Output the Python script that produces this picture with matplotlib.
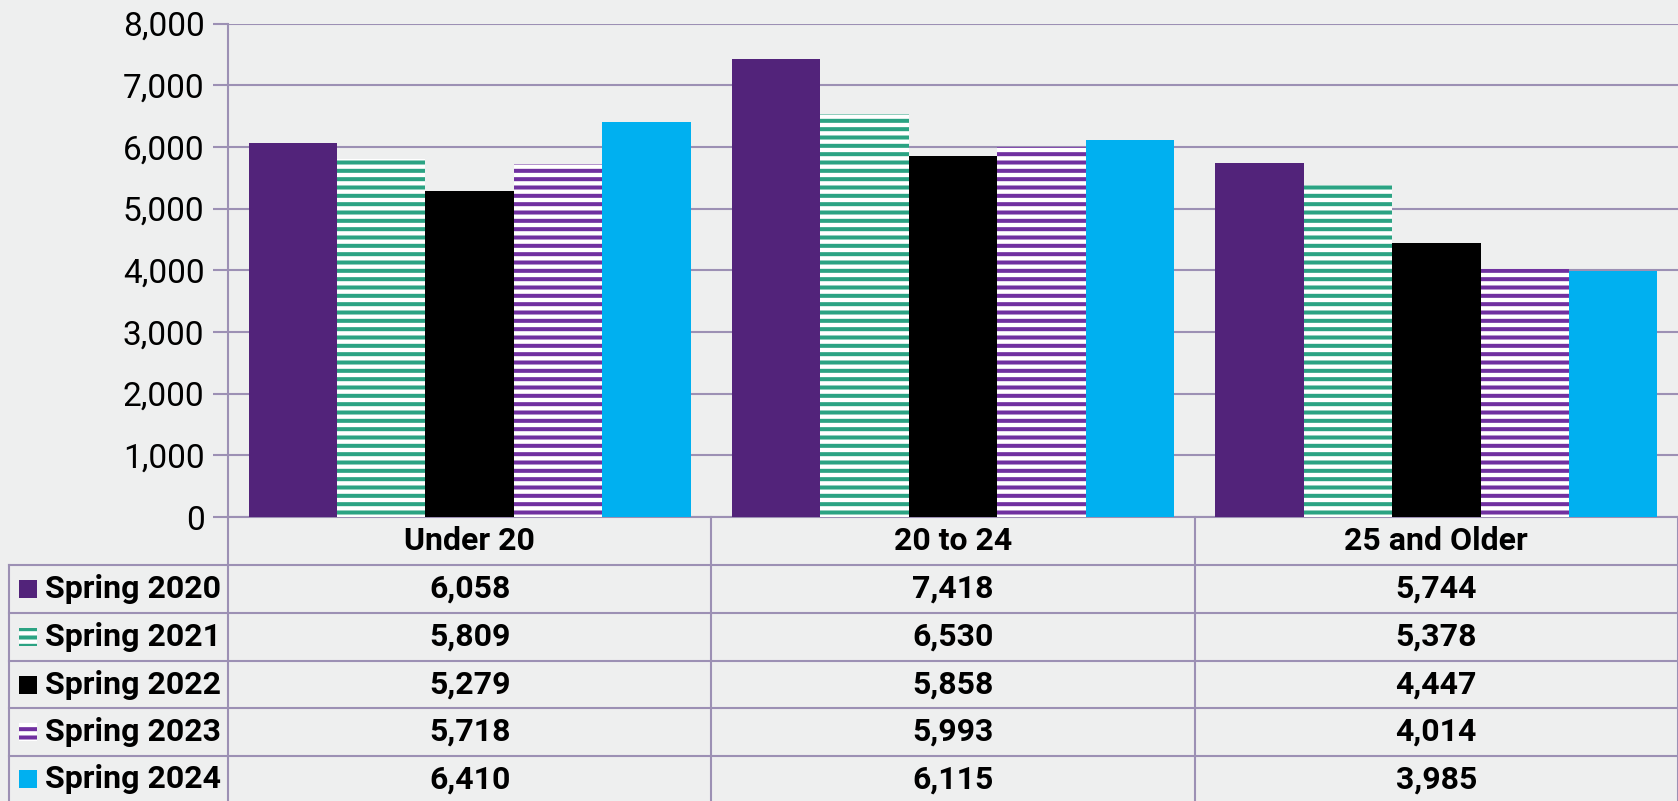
import numpy as np
import matplotlib.pyplot as plt
from matplotlib.patches import Rectangle

# datos
categorias = ["Under 20", "20 to 24", "25 and Older"]
series = ["Spring 2020", "Spring 2021", "Spring 2022", "Spring 2023", "Spring 2024"]
spring_2020 = [6058, 7418, 5744]
spring_2021 = [5809, 6530, 5378]
spring_2022 = [5279, 5858, 4447]
spring_2023 = [5718, 5993, 4014]
spring_2024 = [6410, 6115, 3985]
valores = [spring_2020, spring_2021, spring_2022, spring_2023, spring_2024]
y_ticks = [0, 1000, 2000, 3000, 4000, 5000, 6000, 7000, 8000]

colores = ["#52237A", "#2BA383", "#000000", "#7030A0", "#00B0F0"]
rayado = [False, True, False, True, False]
linea = "#9C90B4"
fondo = "#EEEFEF"

plt.rcParams['font.family'] = ['Roboto', 'DejaVu Sans']
plt.rcParams['hatch.linewidth'] = 2.9

W, H = 1678, 801
fig = plt.figure(figsize=(W / 100, H / 100), dpi=100, facecolor=fondo)

# capa en pixeles para la tabla
capa = fig.add_axes([0, 0, 1, 1], zorder=0)
capa.set_xlim(0, W)
capa.set_ylim(H, 0)
capa.axis("off")

x0, x1, ytop, ybot = 228, 1678, 23.5, 517
ax = fig.add_axes([x0 / W, 1 - ybot / H, (x1 - x0) / W, (ybot - ytop) / H], zorder=1)
ax.set_facecolor("none")

x = np.arange(len(categorias))
ancho = 0.183
for i, (nombre, vals) in enumerate(zip(series, valores)):
    pos = x + (i - 2) * ancho
    if rayado[i]:
        ax.bar(pos, vals, ancho, facecolor="white", edgecolor=colores[i],
               hatch="--", linewidth=0, zorder=3)
    else:
        ax.bar(pos, vals, ancho, color=colores[i], linewidth=0, zorder=3)

ax.set_xlim(-0.5, len(categorias) - 0.5)
ax.set_ylim(0, 8000)
ax.set_yticks(y_ticks)
ax.set_yticklabels([f"{v:,}" for v in y_ticks], fontsize=24)
ax.set_xticks([])
ax.tick_params(axis="y", length=11, width=1.5, color=linea, pad=6)
ax.grid(axis="y", color=linea, linewidth=1.5, zorder=0)
for s in ["top", "right", "bottom"]:
    ax.spines[s].set_visible(False)
ax.spines["left"].set_color(linea)
ax.spines["left"].set_linewidth(1.5)

# tabla debajo
filas_y = [517, 565, 613, 661, 708, 755.5, 803]
col_x = [ax.transData.transform((c - 0.5, 0))[0] for c in range(len(categorias) + 1)]
izq = 9
for k, yy in enumerate(filas_y):
    capa.plot([izq if k > 0 else x0, W], [yy, yy], color=linea, lw=1.5)
for cx in col_x:
    capa.plot([cx, cx], [filas_y[0], H], color=linea, lw=1.5)
capa.plot([izq, izq], [filas_y[1], H], color=linea, lw=1.5)

centros = [(col_x[c] + col_x[c + 1]) / 2 for c in range(len(categorias))]
ym = (filas_y[0] + filas_y[1]) / 2
for c, cat in enumerate(categorias):
    capa.text(centros[c], ym, cat, ha="center", va="center", fontsize=23, fontweight="bold")

for i, (nombre, vals) in enumerate(zip(series, valores)):
    ym = (filas_y[i + 1] + filas_y[i + 2]) / 2
    if rayado[i]:
        capa.add_patch(Rectangle((19, ym - 9), 18, 18, facecolor="white",
                                 edgecolor=colores[i], hatch="--", linewidth=0))
    else:
        capa.add_patch(Rectangle((19, ym - 9), 18, 18, facecolor=colores[i], linewidth=0))
    capa.text(45, ym, nombre, ha="left", va="center", fontsize=23, fontweight="bold")
    for c, v in enumerate(vals):
        capa.text(centros[c], ym, f"{v:,}", ha="center", va="center",
                  fontsize=23, fontweight="bold")

fig.savefig("out.png", dpi=100, facecolor=fondo)
